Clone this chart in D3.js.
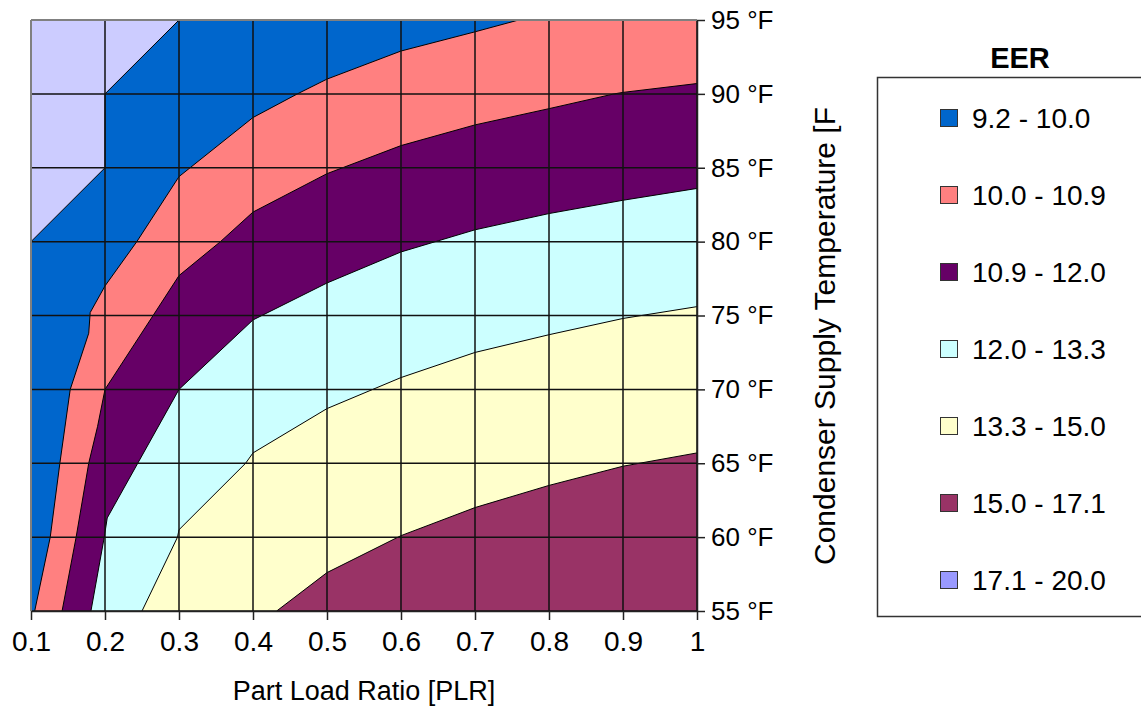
<!DOCTYPE html>
<html>
<head>
<meta charset="utf-8">
<script src="https://cdn.jsdelivr.net/npm/d3@7"></script>
<style>
  body { margin: 0; background: #fff; }
  svg { display: block; font-family: Arial, "Liberation Sans", sans-serif; }
</style>
</head>
<body>
<div id="chart"></div>
<script>
// grid of the surface chart
const plrTicks = [0.1, 0.2, 0.3, 0.4, 0.5, 0.6, 0.7, 0.8, 0.9, 1.0];
const plrTickLabels = ["0.1", "0.2", "0.3", "0.4", "0.5", "0.6", "0.7", "0.8", "0.9", "1"];
const tempTicks = [55, 60, 65, 70, 75, 80, 85, 90, 95];

// legend bands (EER ranges), bottom-right band last
const bandLabels = ["9.2 - 10.0", "10.0 - 10.9", "10.9 - 12.0", "12.0 - 13.3", "13.3 - 15.0", "15.0 - 17.1", "17.1 - 20.0"];
const bandColors = ["#0066CC", "#FF8080", "#660066", "#CCFFFF", "#FFFFCC", "#993366", "#9999FF"];
const cornerColor = "#CCCCFF"; // top-left region as it is shown in the plot

// contour lines, [PLR, temperature F]
const contour92 = [[0.1, 80], [0.2, 85], [0.2, 90], [0.3, 95]];
const contour100 = [[0.105, 55], [0.126, 60], [0.139, 65], [0.153, 70], [0.178, 73.8], [0.18, 75.2],
  [0.2, 77], [0.243, 80], [0.3, 84.4], [0.4, 88.4], [0.46, 90], [0.5, 91], [0.6, 92.9], [0.7, 94.2], [0.759, 95]];
const contour109 = [[0.142, 55], [0.161, 60], [0.178, 65], [0.19, 67.5], [0.2, 70], [0.265, 75], [0.3, 77.7],
  [0.356, 80], [0.4, 82], [0.5, 84.6], [0.6, 86.5], [0.7, 87.9], [0.8, 89], [0.888, 90], [0.9, 90.1], [1.0, 90.7]];
const contour120 = [[0.181, 55], [0.199, 60], [0.203, 61.3], [0.3, 70], [0.4, 74.7], [0.5, 77.2], [0.6, 79.3],
  [0.7, 80.8], [0.8, 81.9], [0.9, 82.8], [1.0, 83.6]];
const contour133 = [[0.25, 55], [0.298, 60], [0.3, 60.5], [0.39, 65], [0.4, 65.7], [0.5, 68.7], [0.6, 70.8],
  [0.7, 72.5], [0.8, 73.7], [0.9, 74.8], [1.0, 75.6]];
const contour150 = [[0.432, 55], [0.5, 57.6], [0.6, 60.1], [0.7, 62], [0.8, 63.5], [0.9, 64.8], [1.0, 65.7]];

const contours = [contour92, contour100, contour109, contour120, contour133, contour150];

const width = 1141, height = 709;
const plot = { left: 31, right: 697, top: 20, bottom: 611 };

const x = d3.scaleLinear().domain([0.1, 1.0]).range([plot.left, plot.right]);
const y = d3.scaleLinear().domain([55, 95]).range([plot.bottom, plot.top]);

const svg = d3.select("#chart").append("svg")
  .attr("width", width)
  .attr("height", height);

svg.append("clipPath").attr("id", "plotClip")
  .append("rect")
  .attr("x", plot.left).attr("y", plot.top)
  .attr("width", plot.right - plot.left).attr("height", plot.bottom - plot.top);

const g = svg.append("g").attr("clip-path", "url(#plotClip)");

// region below/right of a contour line, closed along the plot edges
function regionBelow(pts) {
  let poly = pts.slice();
  let last = pts[pts.length - 1], first = pts[0];
  if (last[1] >= 95) poly.push([1.0, 95]);
  poly.push([1.0, 55]);
  if (first[0] <= 0.1 && first[1] > 55) poly.push([0.1, 55]);
  return poly;
}

const line = d3.line().x(d => x(d[0])).y(d => y(d[1]));

g.append("rect")
  .attr("x", x(0.1)).attr("y", y(95))
  .attr("width", x(1.0) - x(0.1)).attr("height", y(55) - y(95))
  .attr("fill", cornerColor);

g.selectAll("path.band")
  .data(contours)
  .join("path")
  .attr("class", "band")
  .attr("d", d => line(regionBelow(d)) + "Z")
  .attr("fill", (d, i) => bandColors[i]);

g.selectAll("path.contour")
  .data(contours)
  .join("path")
  .attr("class", "contour")
  .attr("d", d => line(d))
  .attr("fill", "none")
  .attr("stroke", "#000")
  .attr("stroke-width", 1);

// grid
g.selectAll("line.vgrid")
  .data(plrTicks)
  .join("line")
  .attr("class", "vgrid")
  .attr("x1", d => x(d)).attr("x2", d => x(d))
  .attr("y1", plot.top).attr("y2", plot.bottom)
  .attr("stroke", "#111").attr("stroke-width", 1.5);

g.selectAll("line.hgrid")
  .data(tempTicks)
  .join("line")
  .attr("class", "hgrid")
  .attr("x1", plot.left).attr("x2", plot.right)
  .attr("y1", d => y(d)).attr("y2", d => y(d))
  .attr("stroke", "#111").attr("stroke-width", 1.5);

// outer frame, top & left are grey
svg.append("line")
  .attr("x1", plot.left).attr("x2", plot.right)
  .attr("y1", plot.top).attr("y2", plot.top)
  .attr("stroke", "#808080").attr("stroke-width", 2);
svg.append("line")
  .attr("x1", plot.left).attr("x2", plot.left)
  .attr("y1", plot.top).attr("y2", plot.bottom)
  .attr("stroke", "#808080").attr("stroke-width", 2);

// axes
const xAxis = svg.append("g")
  .attr("transform", `translate(0,${plot.bottom})`)
  .call(d3.axisBottom(x)
    .tickValues(plrTicks)
    .tickFormat((d, i) => plrTickLabels[i])
    .tickSize(9).tickSizeOuter(0).tickPadding(11));

const yAxis = svg.append("g")
  .attr("transform", `translate(${plot.right},0)`)
  .call(d3.axisRight(y)
    .tickValues(tempTicks)
    .tickFormat(d => `${d} °F`)
    .tickSize(8).tickSizeOuter(0).tickPadding(6));

svg.selectAll(".domain, .tick line")
  .attr("stroke", "#222").attr("stroke-width", 1.5);
xAxis.selectAll("text").attr("font-size", 28).attr("fill", "#000")
  .attr("font-family", "Arial, 'Liberation Sans', sans-serif");
yAxis.selectAll("text").attr("font-size", 26).attr("fill", "#000")
  .attr("font-family", "Arial, 'Liberation Sans', sans-serif");

svg.append("text")
  .attr("x", (plot.left + plot.right) / 2)
  .attr("y", 700)
  .attr("text-anchor", "middle")
  .attr("font-size", 27)
  .text("Part Load Ratio [PLR]");

// y title, its top end is cut off in the original
svg.append("clipPath").attr("id", "titleClip")
  .append("rect").attr("x", 780).attr("y", 108).attr("width", 90).attr("height", 560);

svg.append("g")
  .attr("clip-path", "url(#titleClip)")
  .append("text")
  .attr("transform", "translate(835,565) rotate(-90)")
  .attr("font-size", 30)
  .text("Condenser Supply Temperature [F]");

// legend
svg.append("text")
  .attr("x", 1020).attr("y", 68)
  .attr("text-anchor", "middle")
  .attr("font-size", 29)
  .attr("font-weight", "bold")
  .text("EER");

svg.append("rect")
  .attr("x", 877.5).attr("y", 77.5)
  .attr("width", 300).attr("height", 539)
  .attr("fill", "#fff")
  .attr("stroke", "#333").attr("stroke-width", 1.5);

const legendY = d3.scalePoint().domain(bandLabels).range([118, 580]);

const items = svg.selectAll("g.legendItem")
  .data(bandLabels)
  .join("g")
  .attr("class", "legendItem")
  .attr("transform", d => `translate(0,${legendY(d)})`);

items.append("rect")
  .attr("x", 940.5).attr("y", -8.5)
  .attr("width", 17).attr("height", 17)
  .attr("fill", (d, i) => bandColors[i])
  .attr("stroke", "#333").attr("stroke-width", 1);

items.append("text")
  .attr("x", 972).attr("y", 10)
  .attr("font-size", 28)
  .text(d => d);
</script>
</body>
</html>
